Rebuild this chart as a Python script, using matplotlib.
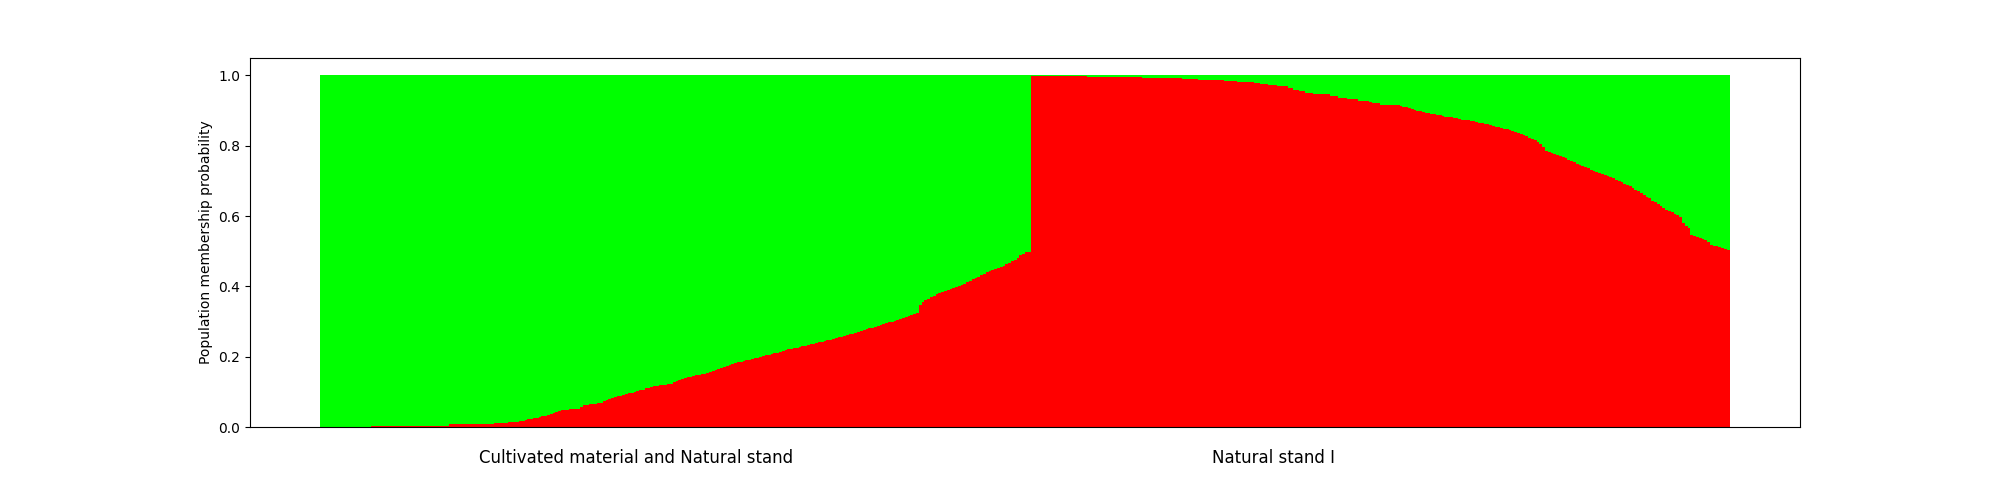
import matplotlib
matplotlib.use("Agg")
import matplotlib.pyplot as plt
import numpy as np

# Membership probability to the "red" cluster, per individual (sorted within groups)
group1_red = [
    0.0, 0.0, 0.0, 0.0, 0.0, 0.0, 0.0, 0.0, 0.0, 0.0, 0.0, 0.0, 0.0, 0.0, 0.0, 0.0, 0.0, 0.0,
    0.002, 0.002, 0.002, 0.002, 0.002, 0.002, 0.002, 0.002, 0.002, 0.002, 0.002, 0.002, 0.002, 0.002,
    0.004, 0.004, 0.004, 0.004, 0.004, 0.004, 0.004, 0.004, 0.004, 0.004, 0.004, 0.004, 0.004, 0.004,
    0.008, 0.008, 0.008, 0.008, 0.008, 0.008, 0.008, 0.008, 0.008, 0.008, 0.008, 0.008, 0.008, 0.008, 0.008, 0.008,
    0.011, 0.011, 0.011, 0.011, 0.011,
    0.014, 0.014, 0.014, 0.014,
    0.017, 0.019, 0.021,
    0.022, 0.024, 0.025,
    0.027, 0.029, 0.031, 0.033, 0.034,
    0.038, 0.041,
    0.044, 0.046, 0.048, 0.049,
    0.050, 0.051, 0.051, 0.052, 0.052,
    0.058, 0.063,
    0.064, 0.065, 0.066, 0.067, 0.068, 0.069,
    0.074, 0.078, 0.080,
    0.083, 0.085, 0.088, 0.090,
    0.092, 0.094, 0.096, 0.097,
    0.100, 0.103, 0.105, 0.107,
    0.110, 0.112, 0.114, 0.116,
    0.118, 0.119, 0.120, 0.121, 0.123, 0.124,
    0.128, 0.131, 0.134, 0.138,
    0.140, 0.142, 0.143, 0.145, 0.147, 0.148, 0.150,
    0.152, 0.155, 0.158, 0.160, 0.163, 0.166, 0.169, 0.172, 0.175, 0.178,
    0.180, 0.182, 0.184, 0.186, 0.188, 0.190, 0.192, 0.194, 0.196, 0.198, 0.200, 0.202, 0.204, 0.206, 0.208, 0.210, 0.212, 0.215,
    0.217, 0.219, 0.221, 0.222, 0.224, 0.226, 0.228, 0.230, 0.232, 0.234, 0.236, 0.237, 0.239, 0.241, 0.243, 0.245, 0.247, 0.249,
    0.251, 0.253, 0.255, 0.257, 0.259, 0.261, 0.264, 0.266, 0.268, 0.271, 0.273, 0.276, 0.278, 0.281, 0.283, 0.286, 0.288, 0.291,
    0.293, 0.295, 0.298, 0.300, 0.302, 0.305, 0.307, 0.310, 0.313, 0.316, 0.319, 0.322, 0.324,
    0.348, 0.355, 0.360, 0.365, 0.369, 0.373, 0.377, 0.380, 0.384, 0.387, 0.390,
    0.392, 0.395, 0.398, 0.401, 0.405, 0.408, 0.412, 0.416, 0.420, 0.424, 0.428, 0.433,
    0.436, 0.440, 0.443, 0.446, 0.449, 0.452, 0.456, 0.459, 0.463, 0.467, 0.471, 0.475,
    0.481, 0.488, 0.493, 0.497, 0.499,
]

group2_red = [
    0.998, 0.998, 0.998, 0.998, 0.998, 0.998, 0.998, 0.998, 0.998, 0.998,
    0.997, 0.997, 0.997, 0.997, 0.997, 0.997, 0.997, 0.997, 0.997, 0.997,
    0.994, 0.994, 0.994, 0.994, 0.994, 0.994, 0.994, 0.994, 0.994, 0.994,
    0.994, 0.994, 0.994, 0.994, 0.994, 0.994, 0.994, 0.994, 0.994, 0.994,
    0.991, 0.991, 0.991, 0.991, 0.991, 0.991, 0.991, 0.991, 0.991, 0.991, 0.991, 0.991, 0.991, 0.991,
    0.989, 0.989, 0.989, 0.989, 0.989, 0.989,
    0.986, 0.986, 0.986, 0.986, 0.986, 0.986, 0.986, 0.986, 0.986,
    0.983, 0.983, 0.983, 0.983, 0.983,
    0.980, 0.980, 0.980, 0.980, 0.980, 0.980,
    0.977, 0.977,
    0.974, 0.974, 0.974,
    0.972, 0.972, 0.972,
    0.969, 0.969, 0.969, 0.969,
    0.965, 0.965,
    0.959, 0.959,
    0.955, 0.955,
    0.950, 0.950, 0.950,
    0.947, 0.947, 0.947, 0.947, 0.947, 0.947,
    0.942, 0.942, 0.942,
    0.936, 0.936, 0.936,
    0.931, 0.931, 0.931, 0.931,
    0.927, 0.927, 0.927, 0.927,
    0.923,
    0.920, 0.920, 0.920,
    0.916, 0.916, 0.916, 0.916, 0.916, 0.916, 0.916,
    0.913, 0.911, 0.909, 0.906, 0.903,
    0.901, 0.899, 0.898, 0.896, 0.894, 0.893, 0.891, 0.889, 0.888, 0.886, 0.884, 0.882,
    0.881, 0.880, 0.878, 0.877, 0.876, 0.874, 0.873, 0.872, 0.870, 0.869, 0.867, 0.865,
    0.863, 0.861, 0.860, 0.858, 0.856, 0.854, 0.852, 0.850, 0.848, 0.846, 0.844, 0.841,
    0.838, 0.835, 0.833, 0.830,
    0.826, 0.822, 0.818, 0.815, 0.811, 0.805,
    0.795, 0.785,
    0.781, 0.778, 0.776, 0.773, 0.771, 0.768,
    0.764, 0.760, 0.756, 0.752, 0.749, 0.745,
    0.742, 0.739, 0.736, 0.732, 0.729, 0.726,
    0.723, 0.720, 0.716, 0.713, 0.710, 0.707,
    0.703, 0.700, 0.696, 0.692, 0.689, 0.685,
    0.680, 0.675, 0.670, 0.665, 0.660, 0.655,
    0.650, 0.644, 0.639, 0.633, 0.628, 0.622,
    0.618, 0.614, 0.610, 0.606, 0.602, 0.598,
    0.580, 0.572, 0.565,
    0.546, 0.543, 0.540, 0.537, 0.535, 0.532,
    0.525, 0.518,
    0.516, 0.514, 0.511,
    0.509, 0.506, 0.504,
]

group_labels = ["Cultivated material and Natural stand", "Natural stand I"]
label_positions = [112.4, 340.3]

red = np.array(group1_red + group2_red)
green = 1.0 - red
x = np.arange(len(red))

fig, ax = plt.subplots(figsize=(20, 4.8), dpi=100)
ax.bar(x, red, width=1.0, color="#ff0000", linewidth=0, antialiased=False)
ax.bar(x, green, width=1.0, bottom=red, color="#00ff00", linewidth=0, antialiased=False)

ax.set_xticks(label_positions)
ax.set_xticklabels(group_labels, fontsize=12)
ax.tick_params(axis="x", length=0, pad=15.5)
ax.set_ylabel("Population membership probability")

fig.savefig("out.png", dpi=100)
